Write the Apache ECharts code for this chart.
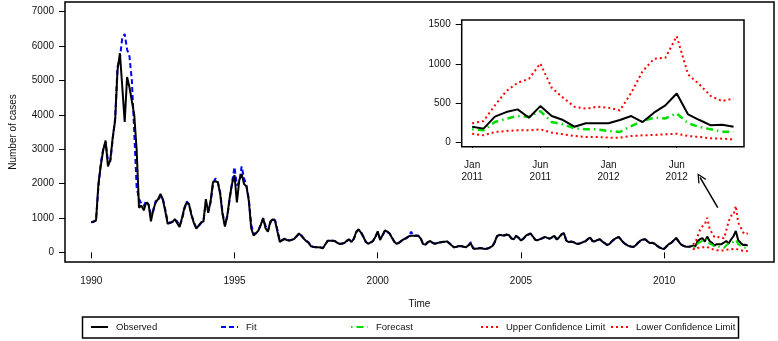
<!DOCTYPE html>
<html>
<head>
<meta charset="utf-8">
<script src="https://cdn.jsdelivr.net/npm/echarts@6/dist/echarts.min.js"></script>
<style>
  html, body { margin: 0; padding: 0; background: #fff; }
  #chart { width: 778px; height: 341px; }
</style>
</head>
<body>
<div id="chart"></div>
<script>
// monthly case counts, Jan 1990 - Dec 2012
var startYear = 1990;
var observed = [
  875, 900, 925, 2000, 2530, 2970, 3250, 2500, 2700, 3350, 3840, 5300,
  5790, 4800, 3790, 5100, 4800, 4400, 4000, 3000, 1300, 1360, 1220, 1450,
  1400, 900, 1250, 1450, 1550, 1700, 1530, 1200, 830, 860, 880, 970,
  850, 740, 1000, 1300, 1450, 1380, 1070, 850, 690, 780, 870, 900,
  1550, 1150, 1500, 2050, 2070, 2040, 1700, 1100, 750, 1080, 1600, 2000,
  2250, 1450, 2100, 2280, 1990, 1920, 1500, 700, 490, 560, 630, 800,
  1000, 700, 600, 900, 960, 920, 600, 300, 360, 390, 360, 340,
  370, 390, 470, 550, 480, 400, 330, 280, 180, 160, 150, 150,
  140, 120, 230, 340, 340, 340, 330, 280, 245, 255, 270, 340,
  380, 300, 400, 600, 670, 570, 450, 300, 250, 290, 330, 450,
  610, 360, 500, 640, 600, 540, 420, 300, 245, 290, 340, 385,
  420, 470, 486, 486, 486, 486, 400, 240, 230, 300, 330, 270,
  250, 270, 290, 300, 310, 320, 260, 200, 146, 165, 185, 180,
  165, 150, 210, 260, 110, 105, 115, 125, 110, 100, 110, 145,
  180, 300, 480, 510, 495, 490, 520, 500, 400, 380, 486, 420,
  345, 400, 480, 520, 550, 460, 360, 355, 385, 415, 450, 420,
  395, 440, 480, 370, 440, 530, 560, 340, 300, 315, 295, 260,
  245, 270, 300, 325, 390, 430, 320, 320, 360, 385, 320, 270,
  215, 240, 320, 380, 420, 450, 360, 280, 230, 190, 170, 155,
  200, 280, 340, 370, 385, 320, 270, 280, 250, 190, 140, 115,
  100, 180, 240, 280, 350, 420, 320, 230, 190, 166, 166, 170,
  196, 171, 324, 383, 417, 311, 459, 332, 281, 196, 239, 239,
  239, 281, 332, 255, 375, 468, 621, 353, 281, 213, 222, 196
];
// model fit, Jan 1990 - Dec 2010
var fitted = [
  875, 880, 950, 1900, 2600, 3000, 3200, 2650, 2650, 3300, 3900, 5400,
  5650, 6250, 6350, 5900, 5700, 5000, 3500, 1900, 1550, 1420, 1350, 1500,
  1380, 1100, 1200, 1500, 1500, 1650, 1550, 1250, 900, 850, 900, 950,
  900, 780, 950, 1250, 1480, 1400, 1100, 880, 720, 760, 850, 920,
  1450, 1200, 1450, 2000, 2150, 2050, 1750, 1150, 800, 1050, 1550, 2050,
  2480, 1950, 2050, 2500, 2150, 1950, 1550, 800, 550, 550, 650, 800,
  980, 780, 620, 850, 990, 930, 650, 330, 350, 400, 370, 350,
  360, 400, 460, 540, 500, 410, 340, 290, 190, 165, 150, 155,
  145, 125, 220, 330, 350, 340, 330, 290, 250, 250, 275, 330,
  370, 320, 390, 580, 660, 590, 460, 310, 255, 280, 330, 440,
  590, 400, 480, 620, 610, 550, 430, 310, 250, 280, 330, 380,
  410, 460, 600, 470, 490, 480, 410, 250, 230, 290, 330, 280,
  255, 265, 290, 300, 315, 320, 270, 205, 150, 160, 180, 185,
  165, 155, 200, 300, 120, 105, 110, 125, 115, 100, 110, 140,
  175, 290, 470, 500, 500, 490, 510, 505, 410, 385, 470, 430,
  350, 390, 470, 510, 545, 470, 370, 350, 380, 410, 445, 425,
  400, 430, 470, 380, 430, 520, 555, 350, 300, 310, 300, 265,
  250, 265, 295, 320, 380, 425, 330, 315, 350, 380, 325, 275,
  220, 235, 310, 370, 415, 440, 370, 285, 230, 195, 170, 160,
  195, 270, 330, 365, 380, 330, 275, 275, 250, 195, 145, 120,
  105, 170, 230, 275, 345, 410, 330, 235, 195, 170, 165, 170
];
// forecast Jan 2011 - Dec 2012
var forecast = [162, 149, 255, 298, 332, 323, 396, 255, 226, 175, 162, 162,
                141, 128, 204, 268, 311, 302, 366, 239, 192, 162, 132, 132];
var upperCL = [239, 268, 468, 651, 757, 808, 1004, 694, 566, 451, 426, 451,
               438, 404, 630, 906, 1064, 1077, 1352, 864, 736, 587, 523, 557];
var lowerCL = [107, 85, 128, 141, 149, 149, 162, 120, 98, 77, 64, 64,
               56, 56, 77, 85, 90, 98, 107, 77, 64, 47, 43, 34];
var forecastStart = 252;

var mainXTicks = [1990, 1995, 2000, 2005, 2010];
var mainYTicks = [0, 1000, 2000, 3000, 4000, 5000, 6000, 7000];
var insetYTicks = [0, 500, 1000, 1500];
var insetXTickPos = [1, 7, 13, 19];
var insetXTickLabels = ['Jan\n2011', 'Jun\n2011', 'Jan\n2012', 'Jun\n2012'];

// arrow from inset to forecast region (time, cases)
var arrowFrom = [2011.87, 1304];
var arrowTo = [2011.25, 2178];

function t(i) { return startYear + i / 12; }
var obsMain = observed.map(function (v, i) { return [t(i), v]; });
var fitMain = fitted.map(function (v, i) { return [t(i), v]; });
var fcMain = forecast.map(function (v, i) { return [t(forecastStart + i), v]; });
var upMain = upperCL.map(function (v, i) { return [t(forecastStart + i), v]; });
var loMain = lowerCL.map(function (v, i) { return [t(forecastStart + i), v]; });
var obsInset = observed.slice(forecastStart).map(function (v, i) { return [i + 1, v]; });
var fcInset = forecast.map(function (v, i) { return [i + 1, v]; });
var upInset = upperCL.map(function (v, i) { return [i + 1, v]; });
var loInset = lowerCL.map(function (v, i) { return [i + 1, v]; });

var font = 'Liberation Sans, Arial, sans-serif';
var txt = { color: '#111', fontFamily: font, fontSize: 10 };
var tick = { show: true, inside: false, length: 6, lineStyle: { color: '#000', width: 1 } };
var plain = function (v) { return String(v); };

var cRed = '#FF0000', cGreen = '#00DD00', cBlue = '#0000FF';
var dotted = [2, 3];
var dashDot = [1.5, 4, 7, 4];

var chart = echarts.init(document.getElementById('chart'));

function legendAt(name, left) {
  return {
    data: [name], left: left, top: 322, padding: 0,
    itemWidth: 17, itemHeight: 10,
    itemStyle: { opacity: 0 },
    textStyle: { color: '#111', fontFamily: font, fontSize: 9.5, padding: [0, 0, 0, 3] },
    selectedMode: false
  };
}

var option = {
  animation: false,
  backgroundColor: '#fff',
  grid: [
    { left: 55, top: 2, width: 719, height: 260, show: true, borderColor: '#000', borderWidth: 1.5, backgroundColor: 'transparent' },
    { left: 461.7, top: 20, width: 282.3, height: 126.7, show: true, borderColor: '#000', borderWidth: 1.5, backgroundColor: '#fff', z: 3 }
  ],
  legend: [
    legendAt('Observed', 90),
    legendAt('Fit', 220),
    legendAt('Forecast', 350),
    legendAt('Upper Confidence Limit', 480),
    legendAt('Lower Confidence Limit', 610)
  ],
  xAxis: [
    {
      type: 'value', gridIndex: 0, min: 1989.083, max: 2013.833,
      name: 'Time', nameLocation: 'middle', nameGap: 37,
      nameTextStyle: txt,
      axisLine: { show: false },
      axisTick: Object.assign({ customValues: mainXTicks }, tick),
      axisLabel: Object.assign({ customValues: mainXTicks, margin: 14, formatter: plain }, txt),
      splitLine: { show: false }
    },
    {
      type: 'value', gridIndex: 1, min: 0.08, max: 24.92,
      axisLine: { show: false },
      axisTick: Object.assign({ customValues: insetXTickPos }, tick),
      axisLabel: Object.assign({
        customValues: insetXTickPos, margin: 13, lineHeight: 11.5,
        formatter: function (v) { return insetXTickLabels[insetXTickPos.indexOf(v)] || ''; }
      }, txt),
      splitLine: { show: false }
    }
  ],
  yAxis: [
    {
      type: 'value', gridIndex: 0, min: -280, max: 7280,
      name: 'Number of cases', nameLocation: 'middle', nameGap: 47,
      nameTextStyle: txt,
      axisLine: { show: false },
      axisTick: Object.assign({ customValues: mainYTicks }, tick),
      axisLabel: Object.assign({ customValues: mainYTicks, margin: 11, formatter: plain }, txt),
      splitLine: { show: false }
    },
    {
      type: 'value', gridIndex: 1, min: -60, max: 1560,
      axisLine: { show: false },
      axisTick: Object.assign({ customValues: insetYTicks }, tick),
      axisLabel: Object.assign({ customValues: insetYTicks, margin: 11, formatter: plain }, txt),
      splitLine: { show: false }
    }
  ],
  graphic: [
    { type: 'rect', shape: { x: 82.5, y: 317, width: 656, height: 21 },
      style: { fill: 'none', stroke: '#000', lineWidth: 1.5 }, z: 10 }
  ],
  series: [
    {
      name: 'Fit', type: 'line', xAxisIndex: 0, yAxisIndex: 0, data: fitMain,
      showSymbol: false, symbol: 'none', color: cBlue,
      lineStyle: { color: cBlue, width: 2, type: [5, 3] }
    },
    {
      name: 'Observed', type: 'line', xAxisIndex: 0, yAxisIndex: 0, data: obsMain,
      showSymbol: false, symbol: 'none', color: '#000',
      lineStyle: { color: '#000', width: 2 },
      markLine: {
        silent: true, animation: false,
        symbol: ['none', 'path://M5,0 L10,9 L8.8,9.8 L5,2.6 L1.2,9.8 L0,9 Z'],
        symbolSize: [9, 10],
        label: { show: false },
        lineStyle: { color: '#000', width: 1.5, type: 'solid' },
        data: [[{ coord: arrowFrom }, { coord: arrowTo }]]
      }
    },
    {
      name: 'Forecast', type: 'line', xAxisIndex: 0, yAxisIndex: 0, data: fcMain,
      showSymbol: false, symbol: 'none', color: cGreen,
      lineStyle: { color: cGreen, width: 2, type: dashDot }
    },
    {
      name: 'Upper Confidence Limit', type: 'line', xAxisIndex: 0, yAxisIndex: 0, data: upMain,
      showSymbol: false, symbol: 'none', color: cRed,
      lineStyle: { color: cRed, width: 2, type: dotted }
    },
    {
      name: 'Lower Confidence Limit', type: 'line', xAxisIndex: 0, yAxisIndex: 0, data: loMain,
      showSymbol: false, symbol: 'none', color: cRed,
      lineStyle: { color: cRed, width: 2, type: dotted }
    },
    // inset
    {
      name: 'Upper Confidence Limit', type: 'line', xAxisIndex: 1, yAxisIndex: 1, data: upInset,
      showSymbol: false, symbol: 'none', color: cRed, z: 4,
      lineStyle: { color: cRed, width: 2, type: dotted }
    },
    {
      name: 'Lower Confidence Limit', type: 'line', xAxisIndex: 1, yAxisIndex: 1, data: loInset,
      showSymbol: false, symbol: 'none', color: cRed, z: 4,
      lineStyle: { color: cRed, width: 2, type: dotted }
    },
    {
      name: 'Forecast', type: 'line', xAxisIndex: 1, yAxisIndex: 1, data: fcInset,
      showSymbol: false, symbol: 'none', color: cGreen, z: 4,
      lineStyle: { color: cGreen, width: 2.5, type: dashDot }
    },
    {
      name: 'Observed', type: 'line', xAxisIndex: 1, yAxisIndex: 1, data: obsInset,
      showSymbol: false, symbol: 'none', color: '#000', z: 4,
      lineStyle: { color: '#000', width: 2 }
    }
  ]
};
chart.setOption(option);
</script>
</body>
</html>
